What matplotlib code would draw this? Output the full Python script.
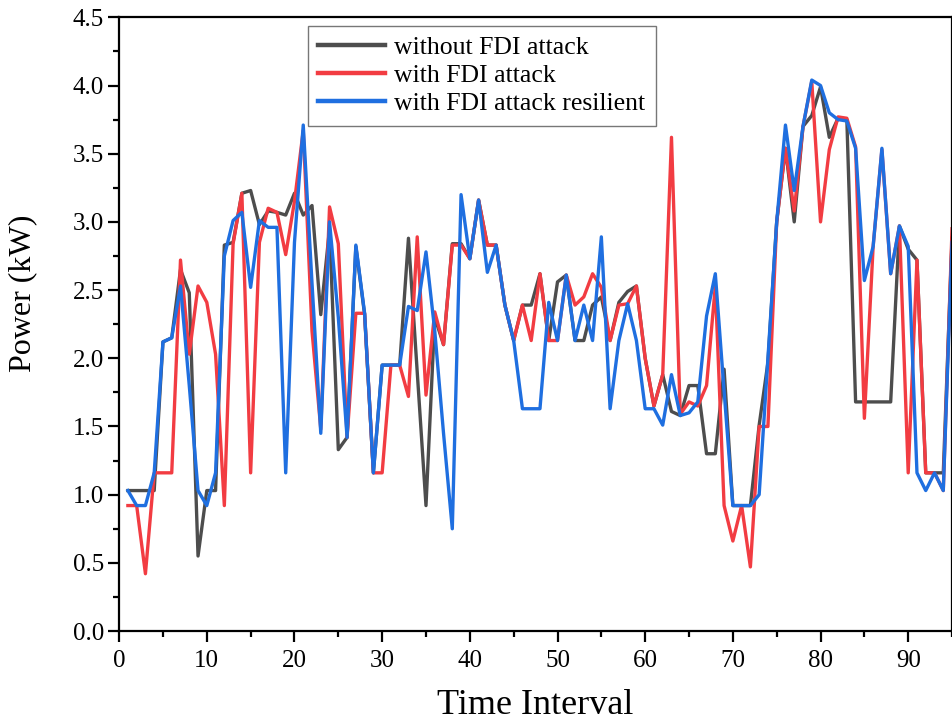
import matplotlib.pyplot as plt
import numpy as np
from matplotlib.ticker import MultipleLocator

plt.rcParams['font.family'] = ['Liberation Serif', 'DejaVu Serif']

t = np.arange(1, 96)

# without FDI attack
p_normal = [1.03, 1.03, 1.03, 1.03, 2.12, 2.15, 2.65, 2.48, 0.55, 1.03,
            1.03, 2.83, 2.85, 3.21, 3.23, 2.98, 3.08, 3.07, 3.05, 3.21,
            3.05, 3.12, 2.32, 2.95, 1.33, 1.42, 2.82, 2.32, 1.16, 1.95,
            1.95, 1.95, 2.88, 1.90, 0.92, 2.30, 2.10, 2.84, 2.84, 2.73,
            3.16, 2.83, 2.83, 2.39, 2.13, 2.39, 2.39, 2.62, 2.13, 2.56,
            2.61, 2.13, 2.13, 2.39, 2.45, 2.13, 2.41, 2.49, 2.53, 2.00,
            1.65, 1.88, 1.61, 1.58, 1.80, 1.80, 1.30, 1.30, 1.92, 0.92,
            0.92, 0.92, 1.51, 1.97, 3.00, 3.54, 3.00, 3.70, 3.78, 3.99,
            3.62, 3.76, 3.75, 1.68, 1.68, 1.68, 1.68, 1.68, 2.97, 2.80,
            2.72, 1.16, 1.16, 1.16, 2.88]

# with FDI attack
p_attack = [0.92, 0.92, 0.42, 1.16, 1.16, 1.16, 2.72, 2.03, 2.53, 2.41,
            2.03, 0.92, 2.84, 3.21, 1.16, 2.85, 3.10, 3.07, 2.76, 3.15,
            3.67, 2.20, 1.48, 3.11, 2.84, 1.42, 2.33, 2.33, 1.16, 1.16,
            1.95, 1.95, 1.72, 2.89, 1.73, 2.34, 2.10, 2.83, 2.83, 2.73,
            3.16, 2.83, 2.83, 2.39, 2.13, 2.39, 2.13, 2.62, 2.13, 2.13,
            2.61, 2.39, 2.45, 2.62, 2.52, 2.13, 2.39, 2.40, 2.53, 2.00,
            1.65, 1.88, 3.62, 1.59, 1.68, 1.65, 1.80, 2.53, 0.92, 0.66,
            0.92, 0.47, 1.50, 1.50, 3.00, 3.54, 3.08, 3.70, 4.03, 3.00,
            3.53, 3.77, 3.76, 3.55, 1.56, 2.82, 3.53, 2.62, 2.97, 1.16,
            2.72, 1.16, 1.16, 1.03, 2.95]

# with FDI attack resilient
p_resilient = [1.03, 0.92, 0.92, 1.16, 2.12, 2.15, 2.53, 1.80, 1.03, 0.92,
               1.16, 2.75, 3.01, 3.07, 2.52, 3.01, 2.96, 2.96, 1.16, 2.85,
               3.71, 2.55, 1.45, 3.00, 2.30, 1.42, 2.83, 2.33, 1.16, 1.95,
               1.95, 1.95, 2.38, 2.35, 2.78, 2.20, 1.45, 0.75, 3.20, 2.73,
               3.16, 2.63, 2.83, 2.39, 2.13, 1.63, 1.63, 1.63, 2.41, 2.13,
               2.61, 2.13, 2.39, 2.13, 2.89, 1.63, 2.13, 2.40, 2.13, 1.63,
               1.63, 1.51, 1.88, 1.58, 1.60, 1.68, 2.31, 2.62, 1.76, 0.92,
               0.92, 0.92, 1.00, 2.00, 3.00, 3.71, 3.23, 3.70, 4.04, 4.00,
               3.80, 3.75, 3.74, 3.54, 2.57, 2.82, 3.54, 2.62, 2.97, 2.82,
               1.16, 1.03, 1.16, 1.03, 2.85]

fig = plt.figure(figsize=(9.53, 7.22), dpi=100)
ax = fig.add_axes([0.125, 0.126, 0.874, 0.85])

ax.plot(t, p_normal, color='#4d4d4d', lw=2.4, label='without FDI attack')
ax.plot(t, p_attack, color='#f23c42', lw=2.4, label='with FDI attack')
ax.plot(t, p_resilient, color='#1f6fe0', lw=2.4, label='with FDI attack resilient')

ax.set_xlim(0, 95)
ax.set_ylim(0, 4.5)
ax.xaxis.set_major_locator(MultipleLocator(10))
ax.xaxis.set_minor_locator(MultipleLocator(5))
ax.yaxis.set_major_locator(MultipleLocator(0.5))
ax.yaxis.set_minor_locator(MultipleLocator(0.25))
ax.yaxis.set_major_formatter(plt.FormatStrFormatter('%.1f'))
ax.tick_params(which='major', direction='out', length=8, width=1.6,
               labelsize=18, pad=3)
ax.tick_params(axis='x', which='major', pad=6)
ax.tick_params(which='minor', direction='out', length=4, width=1.6)
for s in ax.spines.values():
    s.set_linewidth(1.6)

ax.set_xlabel('Time Interval', fontsize=26, labelpad=12)
ax.set_ylabel('Power (kW)', fontsize=23)
ax.yaxis.set_label_coords(-0.098, 0.55)

leg = ax.legend(loc='upper left', bbox_to_anchor=(0.227, 0.986), fontsize=18.5,
                frameon=True, fancybox=False, handlelength=2.6,
                borderpad=0.4, labelspacing=0.2, handletextpad=0.35,
                borderaxespad=0)
leg.get_frame().set_edgecolor('#555555')
leg.get_frame().set_linewidth(1.0)
for line in leg.get_lines():
    line.set_linewidth(3.2)

fig.savefig('out.png', dpi=100)
